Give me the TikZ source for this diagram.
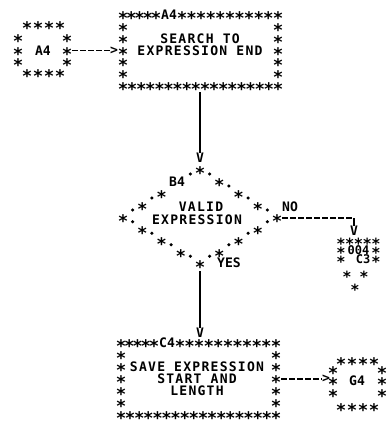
\documentclass[tikz,border=0pt]{standalone}
\usepackage{fontspec}
\newfontfamily\chartfont[LetterSpace=9.5]{DejaVu Sans Mono}
\newfontfamily\plainmono{DejaVu Sans Mono}
\newcommand\stx{\smash{\raisebox{-0.55em}{*}}}
\begin{document}
\begin{tikzpicture}[x=0.75pt,y=-0.75pt,
  ast/.style={font=\plainmono\bfseries\fontsize{13}{13}\selectfont, inner sep=0pt, anchor=center},
  sast/.style={font=\plainmono\bfseries\fontsize{11.5}{11.5}\selectfont, inner sep=0pt, anchor=center},
  lbl/.style={font=\chartfont\bfseries\fontsize{9.8}{9.8}\selectfont, inner sep=0pt, anchor=center},
  chr/.style={font=\plainmono\bfseries\fontsize{9.8}{9.8}\selectfont, inner sep=0pt, anchor=center},
  schr/.style={font=\plainmono\bfseries\fontsize{9}{9}\selectfont, inner sep=0pt, anchor=center},
  dotm/.style={circle, fill=black, inner sep=0pt, minimum size=2.6pt},
  flow/.style={line width=1.4pt},
  dashflow/.style={line width=1.2pt, dash pattern=on 3.8pt off 2.2pt}]
\fill[white] (0,0) rectangle (389,429);
\useasboundingbox (0,0) rectangle (389,429);

% ---------- A4 on-page connector (left) ----------
\foreach \x [count=\i] in {27,38,49,60} {
  \node[ast] (lt\i) at (\x,25) {\stx};
  \node[ast] (lb\i) at (\x,73) {\stx};
}
\foreach \y [count=\i] in {38,50.5,62} {
  \node[ast] (ll\i) at (18,\y) {\stx};
  \node[ast] (lr\i) at (67,\y) {\stx};
}
\node[chr] (a4conn) at (43,50.5) {A4};
\node[chr] (ar1) at (114,50.5) {>};
\draw[dashflow] (lr2.east) -- (ar1.west);

% ---------- A4 process box ----------
\foreach \c in {0,...,4} {
  \node[ast] (tbt\c) at ({123+8.25*\c},15) {\stx};
}
\foreach \c in {0,...,10} {
  \node[ast] (tbu\c) at ({182+9.6*\c},15) {\stx};
}
\foreach \r in {1,...,5} {
  \node[ast] (tbl\r) at (123,{15+11.83*\r}) {\stx};
  \node[ast] (tbr\r) at (278,{15+11.83*\r}) {\stx};
}
\foreach \c in {0,...,17} {
  \node[ast] (tbb\c) at ({123+9.118*\c},86) {\stx};
}
\node[chr] (a4id) at (169,15) {A4};
\node[lbl] (t1a) at (200,39) {SEARCH TO};
\node[lbl] (t1b) at (200,50.5) {EXPRESSION END};

\coordinate (a4out) at (200,92);
\node[chr] (v1) at (200,158) {V};
\draw[flow] (a4out) -- (v1.north);

% ---------- B4 decision ----------
\foreach \x/\y [count=\i] in {200/170, 219.25/182, 238.5/194, 257.75/206,
    277/218, 257.75/229.5, 238.5/241, 219.25/252.5,
    200/264, 180.75/252.5, 161.5/241, 142.25/229.5,
    123/218, 142.25/206, 161.5/194} {
  \node[ast] (ds\i) at (\x,\y) {\stx};
}
\foreach \x/\y [count=\i] in {209.6/174, 228.9/186, 248.1/198, 267.4/210,
    267.4/221.75, 248.1/233.25, 228.9/244.75, 209.6/256.25,
    190.4/256.25, 171.1/244.75, 151.9/233.25, 132.6/221.75,
    132.6/210, 151.9/198, 190.4/174} {
  \node[dotm] (dd\i) at (\x,\y) {};
}
\node[chr] (b4id) at (177,182) {B4};
\node[lbl] (t2a) at (201,207) {VALID};
\node[lbl] (t2b) at (197,219.5) {EXPRESSION};
\node[chr] (no) at (290,207) {NO};
\node[chr] (yes) at (229,263) {YES};

% NO branch
\coordinate (nocorner) at (354,218);
\node[chr] (v3) at (354,231) {V};
\draw[dashflow] (ds5.east) -- (nocorner);
\draw[line width=1pt] (nocorner) -- (v3.north);

% ---------- 004 / C3 off-page connector ----------
\foreach \x [count=\i] in {341,349.75,358.5,367.25,376} {
  \node[sast] (ot\i) at (\x,241) {\stx};
}
\node[sast] (ol1) at (341,250) {\stx};
\node[sast] (or1) at (376,250) {\stx};
\node[sast] (ol2) at (341,259) {\stx};
\node[sast] (or2) at (376,259) {\stx};
\node[sast] (ol3) at (347,274) {\stx};
\node[sast] (or3) at (364,274) {\stx};
\node[sast] (ob) at (355,287) {\stx};
\node[schr] (pg) at (358.5,250.5) {004};
\node[schr] (c3) at (363,259.5) {C3};

% YES branch
\coordinate (yesout) at (200,271);
\node[chr] (v2) at (200,333) {V};
\draw[flow] (yesout) -- (v2.north);

% ---------- C4 process box ----------
\foreach \c in {0,...,4} {
  \node[ast] (cbt\c) at ({121+8.25*\c},343) {\stx};
}
\foreach \c in {0,...,10} {
  \node[ast] (cbu\c) at ({180+9.6*\c},343) {\stx};
}
\foreach \r in {1,...,5} {
  \node[ast] (cbl\r) at (121,{343+12*\r}) {\stx};
  \node[ast] (cbr\r) at (276,{343+12*\r}) {\stx};
}
\foreach \c in {0,...,17} {
  \node[ast] (cbb\c) at ({121+9.118*\c},415) {\stx};
}
\node[chr] (c4id) at (167,343) {C4};
\node[lbl] (t3a) at (197,367) {SAVE EXPRESSION};
\node[lbl] (t3b) at (197,379) {START AND};
\node[lbl] (t3c) at (197,391) {LENGTH};

% ---------- G4 on-page connector ----------
\node[chr] (ar2) at (326,379) {>};
\draw[dashflow] (cbr3.east) -- (ar2.west);
\foreach \x [count=\i] in {341,352,363,374} {
  \node[ast] (gt\i) at (\x,361) {\stx};
  \node[ast] (gb\i) at (\x,407) {\stx};
}
\foreach \y [count=\i] in {370,381,393} {
  \node[ast] (gl\i) at (333,\y) {\stx};
  \node[ast] (gr\i) at (382,\y) {\stx};
}
\node[chr] (g4conn) at (357,381) {G4};
\end{tikzpicture}
\end{document}
